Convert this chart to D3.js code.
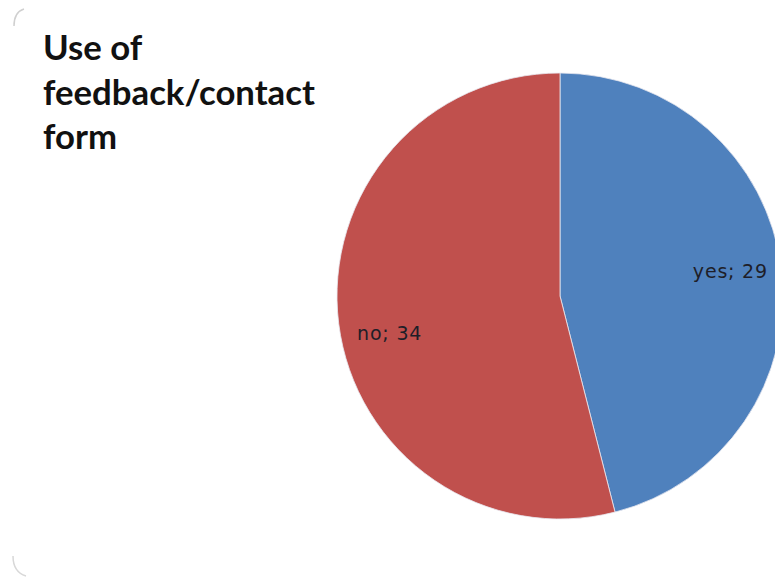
<!DOCTYPE html>
<html><head><meta charset="utf-8">
<script src="https://cdn.jsdelivr.net/npm/d3@7"></script>
<style>html,body{margin:0;padding:0;background:#fff;overflow:hidden}</style>
</head><body>
<svg id="c" width="775" height="579"></svg>
<script>
const categories = ["yes", "no"];
const values = [29, 34];
const colors = ["#4F81BD", "#C0504D"];
const titleLines = ["Use of", "feedback/contact", "form"];

const svg = d3.select("#c");
const cx = 560, cy = 296, r = 223;

// faint chart-area corners
svg.append("path").attr("d", "M14,26 Q14,12 24,9").attr("fill","none").attr("stroke","#d0d0d0").attr("stroke-width",1.5);
svg.append("path").attr("d", "M13,556 Q13,572 26,576").attr("fill","none").attr("stroke","#d8d8d8").attr("stroke-width",1.5);

const data = categories.map((c,i)=>({cat:c, value:values[i], color:colors[i]}));
const pie = d3.pie().value(d=>d.value).sort(null);
const arc = d3.arc().innerRadius(0).outerRadius(r);
const g = svg.append("g").attr("transform",`translate(${cx},${cy})`);
const arcs = pie(data);
g.selectAll("path").data(arcs).enter().append("path")
  .attr("d", arc).attr("fill", d=>d.data.color)
  .attr("stroke","#e8e8f0").attr("stroke-width",0.8);

// labels (Excel best-fit placement nudges)
const labelArc = d3.arc().innerRadius(r*0.77).outerRadius(r*0.77);
const nudgeY = [-3, 16];
g.selectAll("text").data(arcs).enter().append("text")
  .attr("transform", (d,i)=>{const p=labelArc.centroid(d); return `translate(${p[0]},${p[1]+nudgeY[i]})`;})
  .attr("text-anchor","middle").attr("dy","0.35em")
  .attr("font-family","DejaVu Sans, sans-serif").attr("font-size",19)
  .attr("letter-spacing",0.8)
  .attr("fill","#1e1e28")
  .text(d=>`${d.data.cat}; ${d.data.value}`);

// title
const tEl = svg.append("text").attr("font-family","Lato, sans-serif").attr("font-weight","bold")
  .attr("fill","#111").attr("font-size",34);
const baselines = [60, 105, 149];
titleLines.forEach((t,i)=>{
  tEl.append("tspan").attr("x",43).attr("y",baselines[i]).text(t);
});
const widest = tEl.selectAll("tspan").nodes()[1];
const w = widest.getComputedTextLength();
tEl.attr("font-size", 34*272/w);
</script>
</body></html>
